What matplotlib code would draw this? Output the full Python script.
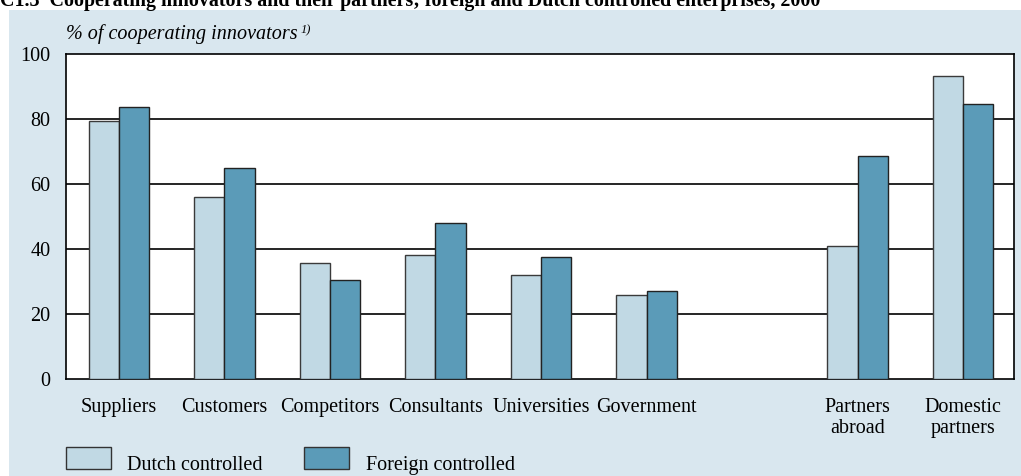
import numpy as np
import matplotlib
matplotlib.use('Agg')
import matplotlib.pyplot as plt
from matplotlib.patches import Rectangle

plt.rcParams['font.family'] = ['Liberation Serif', 'DejaVu Serif']

categorias = ['Suppliers', 'Customers', 'Competitors', 'Consultants', 'Universities',
              'Government', 'Partners\nabroad', 'Domestic\npartners']
posiciones = [0, 1, 2, 3, 4, 5, 7, 8]
holandesas = [79.4, 56.1, 35.6, 38.3, 32.1, 25.8, 40.9, 93.1]
extranjeras = [83.6, 64.8, 30.6, 47.9, 37.5, 27.1, 68.6, 84.5]
marcas_y = [0, 20, 40, 60, 80, 100]

c_fondo = '#d9e7ef'
c_clara = '#c1d9e4'
c_oscura = '#5b9bb8'
tam = 14.5

fig = plt.figure(figsize=(10.21, 4.76), dpi=100)
fig.patches.append(Rectangle((9 / 1021, 0), 1 - 9 / 1021, 1 - 10 / 476,
                             transform=fig.transFigure, facecolor=c_fondo,
                             edgecolor='none', zorder=-5))
fig.text(0.0, 1 - 6 / 476,
         'C1.3  Cooperating innovators and their partners; foreign and Dutch controlled enterprises, 2000',
         fontsize=14.4, fontweight='bold', va='baseline', ha='left')

ax = fig.add_axes([66 / 1021, 1 - 379 / 476, (1014 - 66) / 1021, (379 - 54) / 476])
ax.set_facecolor('white')

x = np.array(posiciones, dtype=float)
ancho = 0.285
ax.bar(x - ancho / 2, holandesas, ancho, color=c_clara, edgecolor='#3a3a3a', linewidth=1, zorder=3)
ax.bar(x + ancho / 2, extranjeras, ancho, color=c_oscura, edgecolor='#222222', linewidth=1, zorder=3)

for v in marcas_y[1:-1]:
    ax.axhline(v, color='black', linewidth=1.2, zorder=1)

ax.set_xlim(-0.502, 8.483)
ax.set_ylim(0, 100)
ax.set_yticks(marcas_y)
ax.set_yticklabels([str(v) for v in marcas_y])
ax.tick_params(axis='y', length=0, pad=11, labelsize=tam)
ax.set_xticks(x)
ax.set_xticklabels(categorias, linespacing=1.12)
ax.tick_params(axis='x', length=0, pad=14, labelsize=tam)
for s in ax.spines.values():
    s.set_linewidth(1.2)
    s.set_color('black')

t_eje = fig.text(66 / 1021, 1 - 39 / 476, '% of cooperating innovators', fontsize=tam,
                 style='italic', va='baseline')
t_sup = fig.text(0, 0, '1)', fontsize=9, style='italic', va='baseline',
                 transform=matplotlib.transforms.IdentityTransform())
# el superíndice se coloca tras medir el texto
fig.canvas.draw()
bb = t_eje.get_window_extent()
t_sup.set_position((bb.x1 + 3, bb.y0 + 11))

# leyenda dibujada a mano
for x0, color, texto, xt in [(66, c_clara, 'Dutch controlled', 127),
                             (304, c_oscura, 'Foreign controlled', 366)]:
    fig.patches.append(Rectangle((x0 / 1021, 1 - 469 / 476), 45 / 1021, 22 / 476,
                                 transform=fig.transFigure, facecolor=color,
                                 edgecolor='#333333', linewidth=1, zorder=2))
    fig.text(xt / 1021, 1 - 470 / 476, texto, fontsize=tam, va='baseline')

fig.savefig('out.png', dpi=100)
